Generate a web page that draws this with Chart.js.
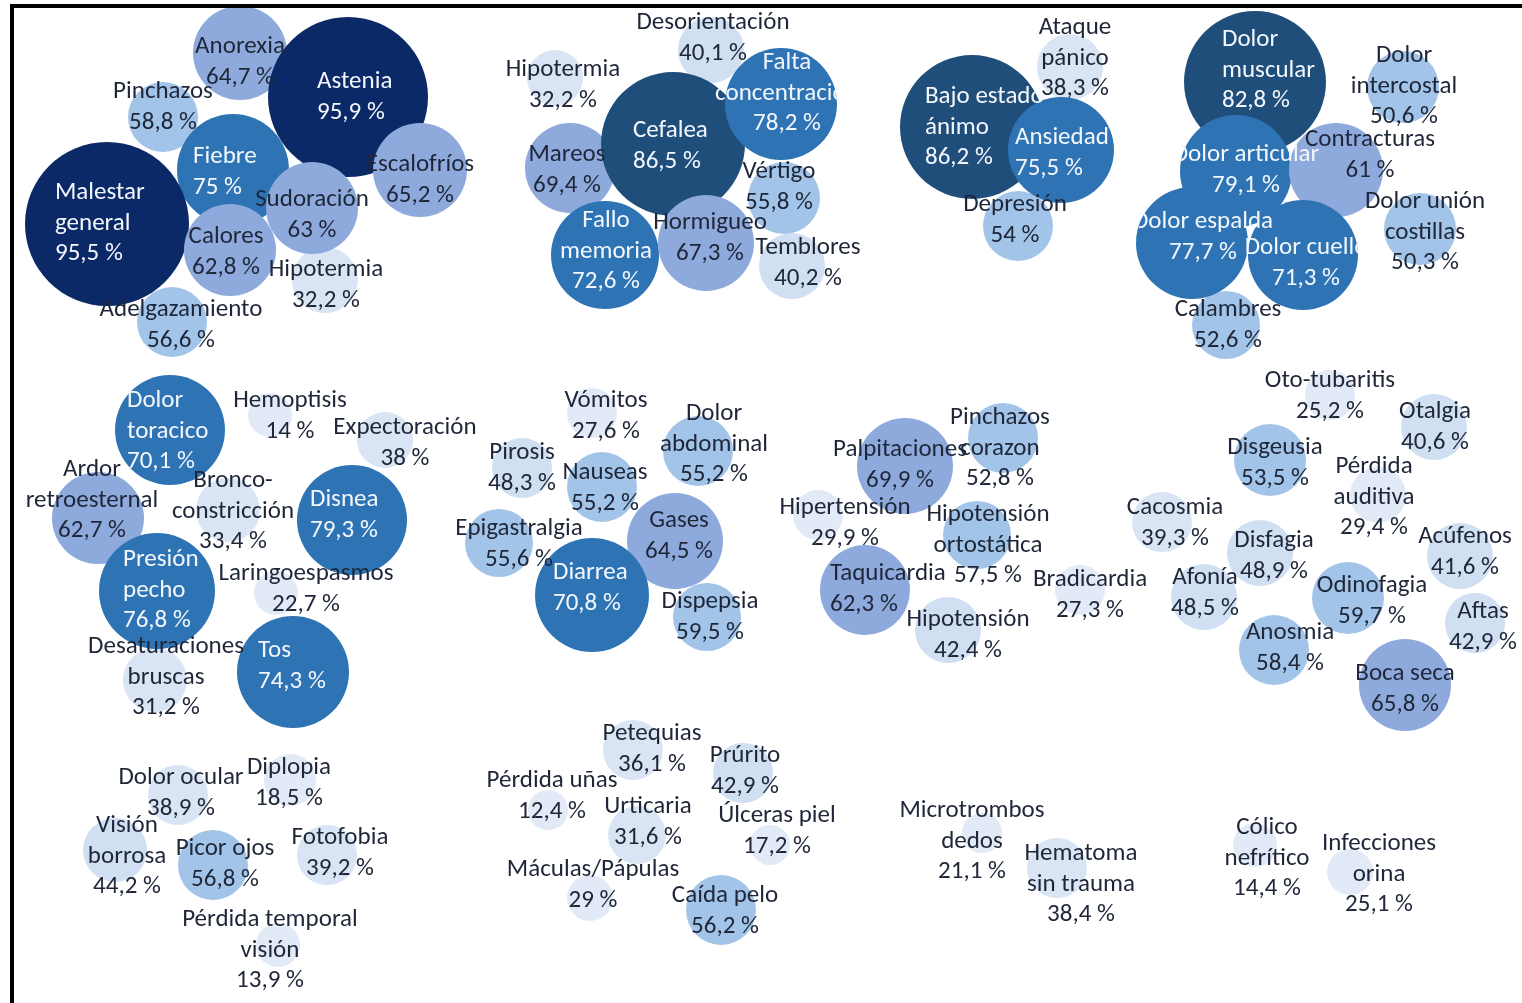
<!DOCTYPE html>
<html>
<head>
<meta charset="utf-8">
<script src="https://cdn.jsdelivr.net/npm/chart.js@4.4.1/dist/chart.umd.min.js"></script>
<style>
  html, body { margin: 0; padding: 0; background: #fff; overflow: hidden; }
  #wrap { position: absolute; left: 0; top: 0; width: 1522px; height: 1003px; }
  #frame { position: absolute; left: 10px; top: 4px; width: 1512px; height: 999px;
           border-left: 4px solid #000; border-top: 4px solid #000; box-sizing: border-box; pointer-events: none; }
</style>
</head>
<body>
<div id="wrap"><canvas id="chart" width="1522" height="1003"></canvas></div>
<div id="frame"></div>
<script>
// symptom names, one per bubble (line breaks as in the picture)
const symptoms = [
  // general
  'Hipotermia', 'Adelgazamiento', 'Pinchazos', 'Anorexia', 'Astenia', 'Escalofríos', 'Fiebre', 'Malestar\ngeneral', 'Calores', 'Sudoración',
  // neuro
  'Desorientación', 'Hipotermia', 'Temblores', 'Vértigo', 'Mareos', 'Cefalea', 'Falta\nconcentración', 'Fallo\nmemoria', 'Hormigueo',
  // mood
  'Ataque\npánico', 'Bajo estado\nánimo', 'Depresión', 'Ansiedad',
  // musculoskeletal
  'Dolor\nintercostal', 'Dolor unión\ncostillas', 'Calambres', 'Dolor\nmuscular', 'Dolor articular', 'Contracturas', 'Dolor espalda', 'Dolor cuello',
  // respiratory
  'Hemoptisis', 'Expectoración', 'Bronco-\nconstricción', 'Laringoespasmos', 'Desaturaciones\nbruscas', 'Dolor\ntoracico', 'Ardor\nretroesternal', 'Disnea', 'Presión\npecho', 'Tos',
  // digestive
  'Vómitos', 'Pirosis', 'Dolor\nabdominal', 'Nauseas', 'Epigastralgia', 'Dispepsia', 'Gases', 'Diarrea',
  // cardio
  'Hipertensión', 'Hipotensión', 'Bradicardia', 'Pinchazos\ncorazon', 'Hipotensión\nortostática', 'Palpitaciones', 'Taquicardia',
  // ENT
  'Oto-tubaritis', 'Otalgia', 'Pérdida\nauditiva', 'Cacosmia', 'Acúfenos', 'Aftas', 'Afonía', 'Disfagia', 'Disgeusia', 'Anosmia', 'Odinofagia', 'Boca seca',
  // eyes
  'Diplopia', 'Pérdida temporal\nvisión', 'Dolor ocular', 'Fotofobia', 'Visión\nborrosa', 'Picor ojos',
  // skin
  'Pérdida uñas', 'Úlceras piel', 'Máculas/Pápulas', 'Urticaria', 'Petequias', 'Prúrito', 'Caída pelo',
  // other
  'Microtrombos\ndedos', 'Cólico\nnefrítico', 'Infecciones\norina', 'Hematoma\nsin trauma'
];

// prevalence in %
const prevalence = [
  32.2, 56.6, 58.8, 64.7, 95.9, 65.2, 75, 95.5, 62.8, 63,
  40.1, 32.2, 40.2, 55.8, 69.4, 86.5, 78.2, 72.6, 67.3,
  38.3, 86.2, 54, 75.5,
  50.6, 50.3, 52.6, 82.8, 79.1, 61, 77.7, 71.3,
  14, 38, 33.4, 22.7, 31.2, 70.1, 62.7, 79.3, 76.8, 74.3,
  27.6, 48.3, 55.2, 55.2, 55.6, 59.5, 64.5, 70.8,
  29.9, 42.4, 27.3, 52.8, 57.5, 69.9, 62.3,
  25.2, 40.6, 29.4, 39.3, 41.6, 42.9, 48.5, 48.9, 53.5, 58.4, 59.7, 65.8,
  18.5, 13.9, 38.9, 39.2, 44.2, 56.8,
  12.4, 17.2, 29, 31.6, 36.1, 42.9, 56.2,
  21.1, 14.4, 25.1, 38.4
];

// bubble x, y and size
const posX = [
  325, 172, 163, 240, 348, 420, 233, 107, 230, 312,
  711, 555, 792, 784, 570, 673, 781, 605, 706,
  1070, 972, 1018, 1061,
  1403, 1420, 1226, 1255, 1236, 1336, 1192, 1303,
  270, 385, 228, 276, 155, 170, 98, 352, 157, 293,
  592, 522, 698, 602, 499, 707, 675, 592,
  818, 948, 1080, 1003, 977, 905, 865,
  1330, 1434, 1378, 1162, 1460, 1475, 1204, 1260, 1270, 1274, 1348, 1405,
  290, 278, 178, 327, 115, 213,
  548, 770, 590, 637, 633, 743, 721,
  982, 1255, 1350, 1057
];
const posY = [
  280, 322, 117, 53, 97, 170, 170, 224, 250, 208,
  50, 78, 266, 198, 168, 144, 104, 255, 243,
  67, 127, 226, 150,
  87, 229, 325, 82, 171, 170, 243, 255,
  415, 440, 510, 593, 680, 430, 518, 520, 591, 672,
  413, 468, 451, 487, 543, 617, 541, 595,
  515, 630, 590, 438, 535, 466, 590,
  395, 427, 495, 522, 556, 623, 597, 553, 460, 650, 598, 685,
  780, 945, 795, 855, 850, 865,
  810, 845, 898, 835, 750, 773, 910,
  833, 845, 872, 868
];
const bubbleSize = [
  33, 35, 35, 47, 80, 47, 56, 82, 46, 46,
  33, 28, 33, 36, 45, 72, 56, 54, 48,
  33, 72, 35, 53,
  36, 36, 34, 71, 56, 47, 56, 55,
  22, 28, 32, 22, 32, 55, 46, 55, 58, 56,
  25, 30, 35, 35, 34, 34, 48, 57,
  25, 33, 25, 35, 34, 48, 45,
  25, 33, 28, 30, 33, 30, 33, 33, 36, 35, 36, 46,
  26, 22, 30, 30, 32, 35,
  20, 20, 23, 29, 30, 30, 35,
  20, 22, 23, 30
];

// label layout: x and y of the first text line
const labelX = [
  326, 181, 163, 240, 317, 420, 193, 55, 226, 312,
  713, 563, 808, 779, 567, 633, 787, 606, 710,
  1075, 925, 1015, 1015,
  1404, 1425, 1228, 1222, 1246, 1370, 1203, 1306,
  290, 405, 233, 306, 166, 127, 92, 310, 123, 258,
  606, 522, 714, 605, 519, 710, 679, 553,
  845, 968, 1090, 1000, 988, 900, 830,
  1330, 1435, 1374, 1175, 1465, 1483, 1205, 1274, 1275, 1290, 1372, 1405,
  289, 270, 181, 340, 127, 225,
  552, 777, 593, 648, 652, 745, 725,
  972, 1267, 1379, 1081
];
const labelY = [
  270, 310, 92, 47, 82, 165, 157, 193, 237, 200,
  23, 70, 248, 172, 155, 131, 63, 221, 223,
  28, 97, 205, 138,
  56, 202, 310, 40, 155, 140, 222, 248,
  401, 428, 481, 574, 647, 401, 470, 500, 560, 651,
  401, 453, 414, 473, 529, 602, 521, 573,
  508, 620, 580, 418, 515, 450, 574,
  381, 412, 467, 508, 537, 612, 578, 541, 448, 633, 586, 674,
  768, 920, 778, 838, 826, 849,
  781, 816, 870, 807, 734, 756, 896,
  811, 828, 844, 854
];
// these labels start at their x instead of being centred on it
const leftAligned = ['Astenia', 'Fiebre', 'Malestar\ngeneral', 'Cefalea', 'Bajo estado\nánimo', 'Ansiedad',
  'Dolor\nmuscular', 'Dolor\ntoracico', 'Disnea', 'Presión\npecho', 'Tos', 'Diarrea', 'Taquicardia'];
// labels cut off at a bubble edge in the picture: [left, right]
const labelClip = {
  'Falta\nconcentración': [0, 839],
  'Dolor cuello': [0, 1359],
  'Dolor articular': [1181, 1522],
  'Dolor espalda': [1139, 1522]
};

function bubbleColor(v) {
  if (v >= 90) return '#0b2867';
  if (v >= 80) return '#1f4e7b';
  if (v >= 70) return '#2e74b5';
  if (v >= 60) return '#8eaadc';
  if (v >= 50) return '#a2c4e8';
  if (v >= 40) return '#d0dff2';
  if (v >= 30) return '#d9e5f4';
  return '#e1eaf6';
}

function fmtPct(v) {
  return String(v).replace('.', ',') + ' %';
}

const points = symptoms.map((s, i) => ({ x: posX[i], y: posY[i], r: bubbleSize[i] }));

const FONT = '25px Carlito, Calibri, "Liberation Sans", sans-serif';
const LINE_H = 30.5;

const labelPlugin = {
  id: 'bubbleLabels',
  afterDatasetsDraw(chart) {
    const ctx = chart.ctx;
    const sx = chart.scales.x, sy = chart.scales.y;
    ctx.save();
    ctx.font = FONT;
    ctx.textBaseline = 'middle';
    symptoms.forEach((name, i) => {
      const lines = name.split('\n').concat(fmtPct(prevalence[i]));
      const px = sx.getPixelForValue(labelX[i]);
      const py = sy.getPixelForValue(labelY[i]);
      ctx.save();
      if (labelClip[name]) {
        const c = labelClip[name];
        ctx.beginPath();
        ctx.rect(sx.getPixelForValue(c[0]), 0, sx.getPixelForValue(c[1]) - sx.getPixelForValue(c[0]), chart.height);
        ctx.clip();
      }
      ctx.fillStyle = prevalence[i] >= 70 ? '#f3f7fc' : '#1e2638';
      ctx.textAlign = leftAligned.includes(name) ? 'left' : 'center';
      lines.forEach((t, k) => ctx.fillText(t, px, py + k * LINE_H));
      ctx.restore();
    });
    ctx.restore();
  }
};

new Chart(document.getElementById('chart').getContext('2d'), {
  type: 'bubble',
  data: {
    datasets: [{
      label: 'Síntomas',
      data: points,
      backgroundColor: prevalence.map(bubbleColor),
      borderWidth: 0,
      hoverRadius: 0,
      clip: false
    }]
  },
  options: {
    responsive: false,
    animation: false,
    devicePixelRatio: 1,
    events: [],
    layout: { padding: 0, autoPadding: false },
    plugins: { legend: { display: false }, tooltip: { enabled: false } },
    scales: {
      x: { type: 'linear', min: 0, max: 1522, display: false },
      y: { type: 'linear', min: 0, max: 1003, reverse: true, display: false }
    }
  },
  plugins: [labelPlugin]
});
</script>
</body>
</html>
